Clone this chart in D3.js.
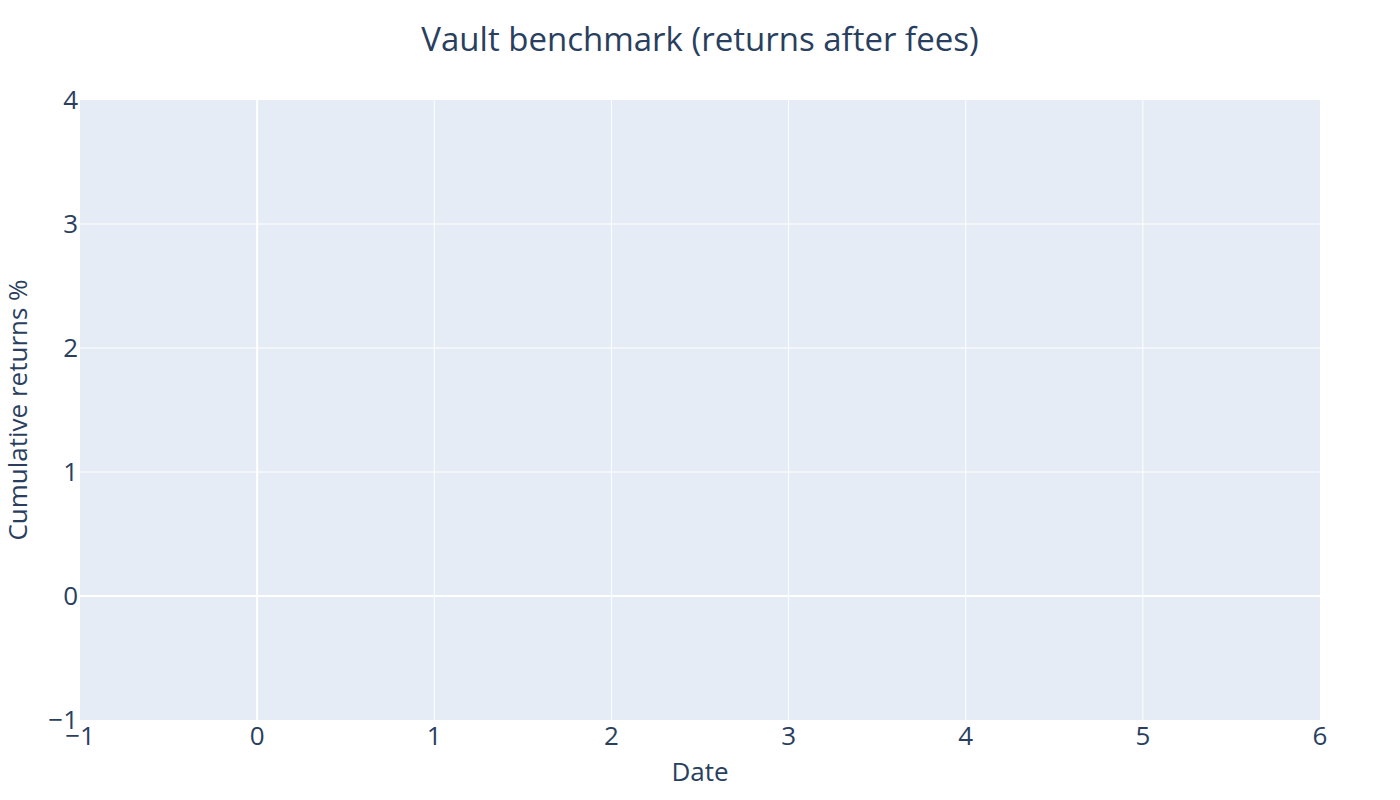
<!DOCTYPE html>
<html lang="en">
<head>
  <meta charset="utf-8">
  <title>Vault benchmark</title>
  <script src="https://cdn.jsdelivr.net/npm/d3@7/dist/d3.min.js"></script>
  <style>
    html, body { margin: 0; padding: 0; background: #fff; }
    text { font-family: "Open Sans", verdana, arial, sans-serif; fill: #2a3f5f; }
  </style>
</head>
<body>
  <div id="chart"></div>
  <script>
    // ── data (no traces in the reference, only axes) ──
    const chartTitle = 'Vault benchmark (returns after fees)';
    const xTitle = 'Date';
    const yTitle = 'Cumulative returns %';
    const xDomain = [-1, 6];
    const yDomain = [-1, 4];
    const xTicks = [-1, 0, 1, 2, 3, 4, 5, 6];
    const yTicks = [-1, 0, 1, 2, 3, 4];

    const W = 1400, H = 800;
    const m = {top: 100, right: 80, bottom: 80, left: 80};

    const svg = d3.select('#chart').append('svg')
      .attr('width', W).attr('height', H);

    const x = d3.scaleLinear().domain(xDomain).range([m.left, W - m.right]);
    const y = d3.scaleLinear().domain(yDomain).range([H - m.bottom, m.top]);

    // plot background
    svg.append('rect')
      .attr('x', m.left).attr('y', m.top)
      .attr('width', W - m.left - m.right)
      .attr('height', H - m.top - m.bottom)
      .attr('fill', '#e5ecf6');

    const fmt = d => d < 0 ? '\u2212' + Math.abs(d) : String(d);

    // grid
    svg.append('g')
      .selectAll('line')
      .data(xTicks.filter(d => d > xDomain[0] && d < xDomain[1]))
      .join('line')
        .attr('x1', d => x(d)).attr('x2', d => x(d))
        .attr('y1', m.top).attr('y2', H - m.bottom)
        .attr('stroke', '#fff')
        .attr('stroke-width', d => d === 0 ? 2 : 1);

    svg.append('g')
      .selectAll('line')
      .data(yTicks.filter(d => d > yDomain[0] && d < yDomain[1]))
      .join('line')
        .attr('x1', m.left).attr('x2', W - m.right)
        .attr('y1', d => y(d)).attr('y2', d => y(d))
        .attr('stroke', '#fff')
        .attr('stroke-width', d => d === 0 ? 2 : 1);

    // tick labels
    svg.append('g')
      .selectAll('text')
      .data(xTicks)
      .join('text')
        .attr('x', d => x(d))
        .attr('y', H - m.bottom + 25)
        .attr('text-anchor', 'middle')
        .attr('font-size', 26)
        .text(fmt);

    svg.append('g')
      .selectAll('text')
      .data(yTicks)
      .join('text')
        .attr('x', m.left - 2)
        .attr('y', d => y(d) + 9)
        .attr('text-anchor', 'end')
        .attr('font-size', 26)
        .text(fmt);

    // titles
    svg.append('text')
      .attr('x', W / 2).attr('y', 51)
      .attr('text-anchor', 'middle')
      .attr('font-size', 33)
      .text(chartTitle);

    svg.append('text')
      .attr('x', (m.left + W - m.right) / 2).attr('y', 781)
      .attr('text-anchor', 'middle')
      .attr('font-size', 26)
      .text(xTitle);

    svg.append('text')
      .attr('transform', `translate(27,${(m.top + H - m.bottom) / 2}) rotate(-90)`)
      .attr('text-anchor', 'middle')
      .attr('font-size', 26)
      .text(yTitle);
  </script>
</body>
</html>
